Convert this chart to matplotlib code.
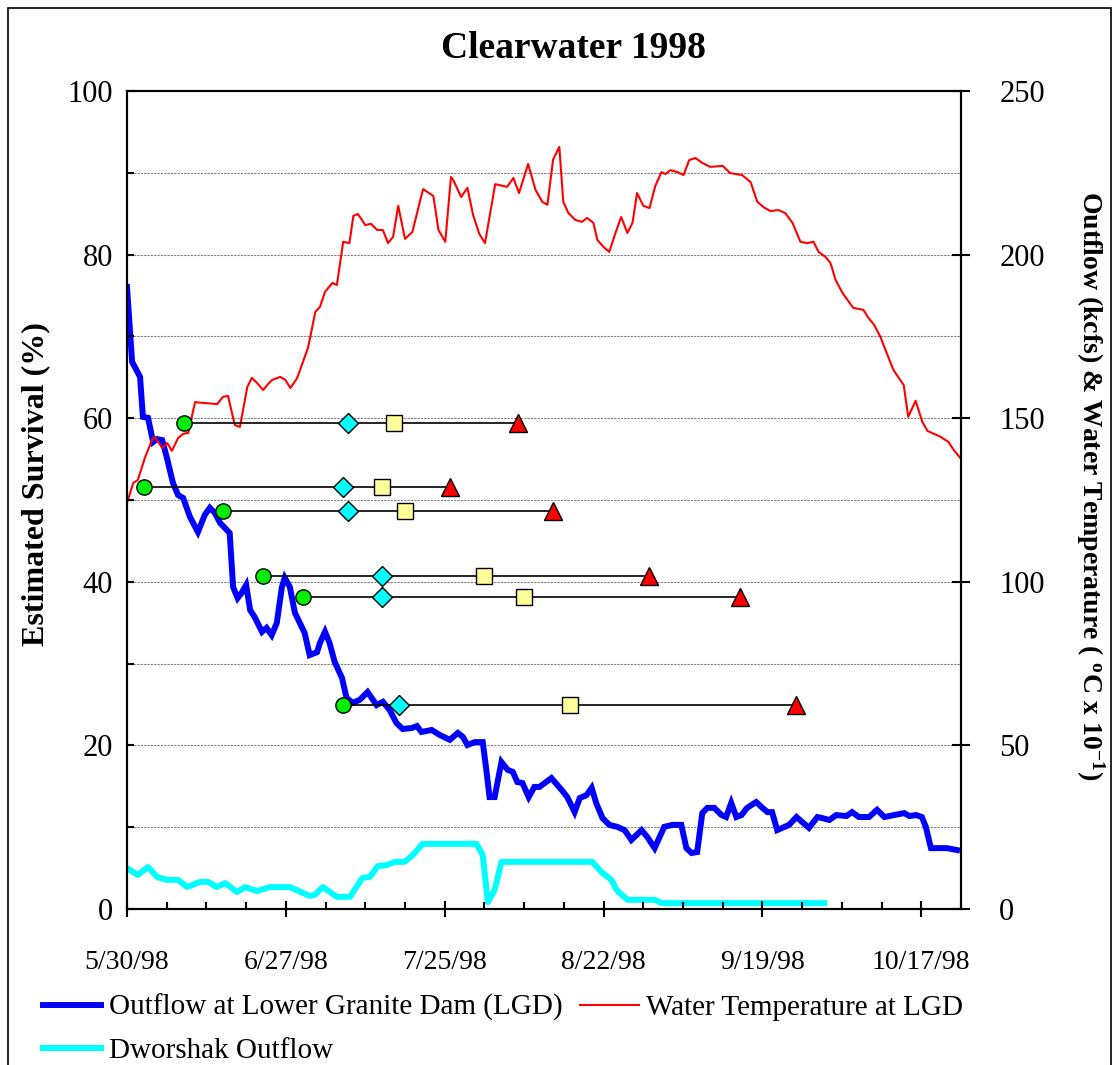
import matplotlib.pyplot as plt
import matplotlib.patches as patches

plt.rcParams['font.family'] = ['Liberation Serif', 'DejaVu Serif']
plt.rcParams['mathtext.fontset'] = 'stix'

# days after 5/30/98
tick_days = [0, 28, 56, 84, 112, 140]
tick_labels = ['5/30/98', '6/27/98', '7/25/98', '8/22/98', '9/19/98', '10/17/98']

# Outflow at Lower Granite Dam (kcfs)
blue_day = [0.0, 0.9, 2.3, 2.8, 3.7, 4.6, 5.3, 6.2, 7.0, 8.1,
            9.0, 9.9, 11.1, 12.5, 13.7, 14.6, 15.5, 16.4, 17.6, 18.1,
            18.7, 19.5, 20.2, 21.0, 21.7, 22.5, 23.8, 24.6, 25.5, 26.4,
            27.3, 27.8, 28.7, 29.6, 30.8, 31.3, 32.2, 33.5, 34.0, 34.9,
            35.7, 36.6, 37.9, 38.7, 39.8, 41.0, 42.4, 44.0, 45.1, 46.3,
            47.5, 48.6, 50.2, 51.1, 51.9, 53.7, 55.1, 56.9, 58.3, 59.2,
            60.0, 61.3, 62.7, 63.4, 63.9, 64.8, 66.0, 67.1, 68.0, 68.8,
            69.7, 70.8, 71.8, 72.7, 74.8, 76.6, 77.6, 78.9, 79.8, 81.0,
            81.9, 82.7, 83.8, 85.0, 86.4, 87.7, 88.9, 90.7, 91.7, 93.0,
            93.8, 94.7, 96.1, 97.7, 98.6, 99.5, 100.5, 101.4, 102.3, 103.5,
            104.8, 105.6, 106.5, 107.4, 108.3, 109.3, 110.9, 112.0, 112.9, 113.7,
            114.6, 115.5, 116.7, 118.0, 119.0, 120.2, 121.7, 122.5, 123.8, 125.0,
            126.8, 127.8, 129.0, 130.8, 132.2, 133.5, 135.2, 137.0, 137.9, 139.1,
            140.1, 140.8, 141.7, 143.1, 144.5, 146.3]
blue_kcfs = [190.1, 167.2, 162.6, 150.4, 150.1, 142.7, 143.6, 143.3, 138.1, 130.2,
             126.5, 125.6, 119.8, 115.2, 120.4, 122.6, 121.0, 118.0, 115.8, 114.9,
             98.4, 95.0, 96.6, 99.0, 91.4, 89.2, 84.7, 85.9, 83.7, 87.4,
             98.4, 101.2, 98.4, 90.5, 86.2, 84.4, 77.6, 78.5, 81.3, 84.7,
             81.3, 75.5, 70.6, 64.5, 63.0, 63.9, 66.3, 62.3, 63.3, 60.8,
             56.8, 55.0, 55.3, 55.9, 54.1, 54.7, 53.2, 51.7, 53.8, 52.6,
             50.1, 51.0, 51.0, 41.6, 34.2, 34.2, 44.9, 42.5, 41.9, 38.8,
             38.5, 34.2, 37.3, 37.3, 40.0, 36.4, 34.2, 29.6, 33.9, 34.8,
             37.0, 32.4, 27.8, 25.7, 25.1, 24.1, 21.1, 24.1, 22.0, 18.6,
             21.7, 25.1, 25.7, 25.7, 18.6, 17.1, 17.4, 29.3, 30.9, 30.9,
             28.7, 28.1, 32.4, 28.1, 28.7, 30.9, 32.7, 30.9, 29.6, 29.6,
             24.1, 24.8, 25.7, 28.1, 26.6, 24.8, 28.1, 27.8, 27.2, 28.7,
             28.4, 29.6, 28.1, 28.1, 30.3, 28.1, 28.7, 29.3, 28.4, 28.7,
             28.1, 25.1, 18.6, 18.6, 18.6, 18.0]

# Water temperature at LGD (deg C x 10)
red_day = [0.0, 1.1, 1.9, 3.2, 4.4, 4.9, 6.2, 7.1, 7.9, 9.0,
           9.9, 10.8, 12.0, 13.8, 15.9, 16.9, 17.8, 19.0, 19.9, 21.2,
           22.0, 22.9, 24.0, 24.9, 25.6, 27.0, 27.9, 28.8, 30.0, 31.9,
           33.2, 34.0, 34.9, 36.2, 37.0, 38.1, 39.2, 39.9, 40.7, 42.0,
           43.0, 44.1, 45.1, 46.0, 46.9, 47.8, 49.0, 50.3, 51.7, 52.2,
           54.0, 54.9, 56.1, 57.1, 57.5, 58.9, 60.0, 61.0, 62.1, 63.1,
           64.9, 67.0, 68.1, 69.1, 70.7, 72.0, 73.2, 74.1, 75.1, 76.2,
           76.9, 77.8, 79.0, 80.2, 81.1, 82.2, 82.9, 84.0, 85.0, 86.1,
           87.1, 88.2, 89.1, 89.9, 91.0, 92.1, 93.1, 94.2, 94.9, 95.8,
           97.0, 98.1, 99.1, 100.2, 101.4, 102.8, 105.0, 106.3, 108.4, 109.9,
           111.1, 112.2, 113.4, 114.8, 116.0, 117.3, 118.7, 119.9, 121.0, 121.9,
           123.1, 124.0, 124.9, 126.1, 128.0, 129.8, 130.7, 131.7, 132.8, 133.7,
           135.1, 136.9, 137.7, 139.0, 140.2, 141.1, 143.4, 144.8, 145.7, 146.9]
red_temp = [124.1, 130.2, 131.1, 138.1, 143.3, 144.3, 140.9, 142.4, 140.0, 143.9,
            145.2, 145.5, 154.9, 154.6, 154.3, 156.5, 156.8, 147.9, 147.3, 159.5,
            162.3, 160.8, 158.6, 160.5, 161.7, 162.6, 161.7, 159.2, 162.3, 171.5,
            182.5, 184.0, 188.6, 191.3, 190.7, 203.9, 203.5, 211.8, 212.4, 209.0,
            209.4, 207.5, 207.5, 203.5, 205.4, 214.9, 204.8, 206.9, 216.7, 220.0,
            217.9, 207.5, 203.9, 223.7, 222.8, 217.6, 220.4, 212.1, 206.3, 203.5,
            221.5, 220.7, 223.4, 218.8, 227.7, 219.8, 216.1, 215.2, 229.0, 232.9,
            216.1, 212.7, 210.6, 210.0, 211.2, 209.7, 204.5, 202.3, 200.8, 206.6,
            211.5, 206.6, 209.7, 218.8, 214.9, 214.2, 220.9, 225.2, 224.6, 225.8,
            225.2, 224.3, 228.9, 229.5, 228.0, 226.8, 227.1, 224.9, 224.3, 222.2,
            216.1, 214.5, 213.3, 213.6, 212.7, 209.7, 203.9, 203.5, 203.9, 200.8,
            199.3, 197.4, 192.2, 188.3, 183.7, 183.1, 180.6, 178.5, 174.8, 170.8,
            164.7, 160.1, 150.4, 155.3, 148.8, 146.1, 144.3, 142.7, 140.3, 137.8]

# Dworshak outflow (kcfs)
cyan_day = [0.0, 1.9, 3.7, 5.3, 7.0, 9.0, 10.6, 12.9, 14.3, 15.8,
            17.3, 19.4, 20.8, 22.9, 25.2, 28.7, 32.2, 33.1, 34.5, 37.0,
            39.3, 41.5, 42.8, 44.2, 45.8, 47.2, 48.9, 50.4, 52.1, 61.6,
            62.7, 63.6, 64.8, 66.0, 82.0, 83.8, 85.4, 86.3, 88.2, 93.0,
            94.2, 122.9]
cyan_kcfs = [12.5, 10.4, 12.8, 9.8, 8.9, 8.9, 6.7, 8.3, 8.3, 6.7,
             7.9, 5.2, 6.7, 5.5, 6.7, 6.7, 4.0, 4.3, 6.7, 3.7,
             3.7, 9.5, 9.8, 13.1, 13.4, 14.4, 14.4, 16.5, 19.9, 19.9,
             16.5, 2.1, 5.8, 14.4, 14.4, 11.0, 8.9, 5.8, 2.8, 2.8,
             1.8, 1.8]

# release groups: survival (%) and passage days
survival = [59.4, 51.6, 48.6, 40.7, 38.1, 24.9]
circle_day = [10, 3, 17, 24, 31, 38]
diamond_day = [39, 38, 39, 45, 45, 48]
square_day = [47, 45, 49, 63, 70, 78]
triangle_day = [69, 57, 75, 92, 108, 118]

fig = plt.figure(figsize=(11.19, 10.65), dpi=100)
ax = fig.add_axes([0.1135, 0.1465, 0.7453, 0.7681])
ax2 = ax.twinx()
ax.set_zorder(ax2.get_zorder() + 1)
ax.patch.set_visible(False)

# grid (drawn on the right axis so it stays behind the lines)
for g in range(25, 250, 25):
    ax2.axhline(g, color='#808080', lw=0.8, ls=(0, (2, 1)), zorder=0)

l_blue, = ax2.plot(blue_day, blue_kcfs, color='#0000ff', lw=4.3,
                   solid_joinstyle='miter', label='Outflow at Lower Granite Dam (LGD)')
l_cyan, = ax2.plot(cyan_day, cyan_kcfs, color='#00ffff', lw=4.3,
                   label='Dworshak Outflow')
l_red, = ax2.plot(red_day, red_temp, color='#ff0000', lw=1.5,
                  label='Water Temperature at LGD')

for i in range(len(survival)):
    ax.plot([circle_day[i], triangle_day[i]], [survival[i], survival[i]],
            color='black', lw=1.2, zorder=3)
ax.plot(circle_day, survival, 'o', ms=11, mfc='#00ee00', mec='black', mew=1.0, zorder=4)
ax.plot(diamond_day, survival, 'D', ms=10, mfc='#00ffff', mec='black', mew=1.0, zorder=4)
ax.plot(square_day, survival, 's', ms=11.5, mfc='#ffff99', mec='black', mew=1.0, zorder=4)
ax.plot(triangle_day, survival, '^', ms=13.5, mfc='#ff0000', mec='black', mew=1.0, zorder=4)

ax.set_xlim(0, 147)
ax.set_ylim(0, 100)
ax2.set_ylim(0, 250)

ax.set_xticks(tick_days)
ax.set_xticklabels(tick_labels)
ax.set_xticks(range(0, 148, 7), minor=True)
ax.set_yticks(range(0, 101, 20))
ax.set_yticks(range(10, 100, 20), minor=True)
ax2.set_yticks(range(0, 251, 50))

ax.tick_params(axis='x', which='major', direction='inout', length=11.5, width=1.5,
               pad=24, labelsize=20)
ax.tick_params(axis='x', which='minor', direction='in', length=5, width=1.5)
ax.tick_params(axis='y', which='both', direction='in', length=5, width=1.5,
               pad=10, labelsize=22)
ax2.tick_params(axis='y', direction='inout', length=13, width=1.5, pad=21, labelsize=22)

for a in (ax, ax2):
    for s in a.spines.values():
        s.set_linewidth(1.5)

ax.set_ylabel('Estimated Survival (%)', fontsize=23, fontweight='bold',
              va='center', ha='center', rotation_mode='anchor')
ax.yaxis.set_label_coords(-0.109, 0.52)
ax2.set_ylabel(r'Outflow (kcfs) & Water Temperature ( $^{\mathregular{o}}$C x 10$^{\mathregular{-1}}$)',
               fontsize=20, fontweight='bold', rotation=-90,
               va='center', ha='center', rotation_mode='anchor')
ax2.yaxis.set_label_coords(1.155, 0.518)

fig.text(573 / 1119, 1 - 48 / 1065, 'Clearwater 1998', ha='center', va='center',
         fontsize=27, fontweight='bold')

fig.legend(handles=[l_blue, l_cyan, l_red], ncol=2, loc='upper left',
           bbox_to_anchor=(43 / 1119, 1 - 994 / 1065), frameon=False,
           fontsize=21, handlelength=2.0, handletextpad=0.25,
           columnspacing=0.62, labelspacing=0.55, borderpad=0, borderaxespad=0)

# outer frame
fig.patches.append(patches.Rectangle((8 / 1119, -0.01), 1103 / 1119, 1 - 8 / 1065 + 0.01,
                                     transform=fig.transFigure, fill=False,
                                     ec='black', lw=1.2))

fig.savefig('out.png', dpi=100)
